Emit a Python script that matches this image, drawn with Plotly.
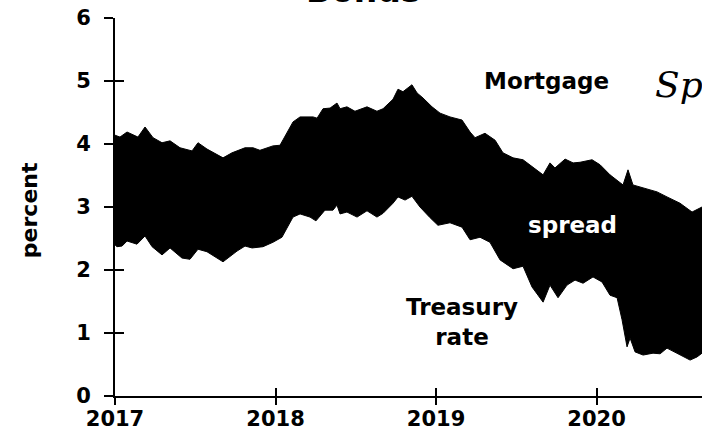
import plotly.graph_objects as go

# decimal-year positions and values
mortgage_x = [2017.000, 2017.031, 2017.075, 2017.143, 2017.187, 2017.237, 2017.293, 2017.343,
              2017.405, 2017.480, 2017.517, 2017.573, 2017.673, 2017.729, 2017.810, 2017.860,
              2017.903, 2017.984, 2018.028, 2018.109, 2018.153, 2018.234, 2018.259, 2018.296,
              2018.340, 2018.383, 2018.402, 2018.445, 2018.495, 2018.570, 2018.632, 2018.670,
              2018.732, 2018.763, 2018.794, 2018.850, 2018.882, 2018.919, 2018.975, 2019.025,
              2019.087, 2019.162, 2019.212, 2019.243, 2019.305, 2019.368, 2019.417, 2019.480,
              2019.542, 2019.604, 2019.667, 2019.710, 2019.741, 2019.804, 2019.854, 2019.897,
              2019.972, 2020.022, 2020.084, 2020.165, 2020.196, 2020.227, 2020.290, 2020.377,
              2020.439, 2020.520, 2020.595, 2020.657, 2020.700]
mortgage_rate = [4.14, 4.11, 4.19, 4.11, 4.27, 4.10, 4.02, 4.05,
                 3.94, 3.89, 4.02, 3.92, 3.78, 3.86, 3.94, 3.94,
                 3.90, 3.97, 3.98, 4.35, 4.43, 4.43, 4.41, 4.56,
                 4.57, 4.65, 4.56, 4.59, 4.52, 4.59, 4.52, 4.56,
                 4.71, 4.87, 4.83, 4.94, 4.81, 4.73, 4.59, 4.49,
                 4.43, 4.38, 4.19, 4.10, 4.17, 4.06, 3.86, 3.78,
                 3.75, 3.63, 3.51, 3.70, 3.62, 3.76, 3.70, 3.71,
                 3.75, 3.67, 3.51, 3.35, 3.59, 3.35, 3.30, 3.24,
                 3.16, 3.06, 2.92, 3.00, 2.95]

treasury_x = [2017.000, 2017.012, 2017.044, 2017.075, 2017.137, 2017.187, 2017.231, 2017.293,
              2017.343, 2017.417, 2017.467, 2017.517, 2017.573, 2017.673, 2017.760, 2017.810,
              2017.854, 2017.922, 2017.984, 2018.040, 2018.109, 2018.153, 2018.215, 2018.252,
              2018.308, 2018.358, 2018.383, 2018.402, 2018.445, 2018.508, 2018.570, 2018.632,
              2018.670, 2018.732, 2018.763, 2018.807, 2018.850, 2018.900, 2018.963, 2019.012,
              2019.087, 2019.162, 2019.212, 2019.274, 2019.336, 2019.399, 2019.480, 2019.542,
              2019.598, 2019.667, 2019.710, 2019.760, 2019.816, 2019.866, 2019.916, 2019.978,
              2020.034, 2020.084, 2020.128, 2020.159, 2020.190, 2020.209, 2020.240, 2020.290,
              2020.352, 2020.396, 2020.439, 2020.502, 2020.583, 2020.626, 2020.657, 2020.700]
treasury_rate = [2.40, 2.37, 2.38, 2.46, 2.41, 2.54, 2.37, 2.24,
                 2.35, 2.19, 2.17, 2.33, 2.29, 2.13, 2.30, 2.38,
                 2.35, 2.37, 2.44, 2.52, 2.84, 2.89, 2.84, 2.78,
                 2.95, 2.95, 3.03, 2.89, 2.92, 2.84, 2.94, 2.84,
                 2.90, 3.06, 3.16, 3.11, 3.17, 3.00, 2.83, 2.71,
                 2.75, 2.68, 2.48, 2.52, 2.44, 2.16, 2.02, 2.06,
                 1.73, 1.49, 1.76, 1.56, 1.76, 1.84, 1.79, 1.89,
                 1.81, 1.60, 1.56, 1.21, 0.78, 0.92, 0.70, 0.65,
                 0.68, 0.67, 0.76, 0.68, 0.57, 0.62, 0.68, 0.66]

x_ticks = [2017, 2018, 2019, 2020]
x_tick_labels = ["2017", "2018", "2019", "2020"]
y_ticks = [0, 1, 2, 3, 4, 5, 6]

FONT = "DejaVu Sans, sans-serif"

fig = go.Figure()
fig.add_trace(go.Scatter(x=treasury_x, y=treasury_rate, mode="lines",
                         line=dict(color="black", width=1), showlegend=False,
                         hoverinfo="skip"))
fig.add_trace(go.Scatter(x=mortgage_x, y=mortgage_rate, mode="lines",
                         line=dict(color="black", width=1), fill="tonexty",
                         fillcolor="black", showlegend=False, hoverinfo="skip"))

x_range = [2017, 2020.657]
y_range = [0, 6]

fig.update_layout(
    width=702, height=443,
    margin=dict(l=115, r=0, t=18, b=47),
    paper_bgcolor="white", plot_bgcolor="white",
    font=dict(family=FONT, color="black"),
    xaxis=dict(range=x_range, tickvals=x_ticks, ticktext=x_tick_labels,
               showgrid=False, zeroline=False, showline=True, linecolor="black",
               linewidth=2, ticks="inside", ticklen=8, tickwidth=2, tickcolor="black",
               ticklabelstandoff=3,
               tickfont=dict(size=21, weight="bold", family=FONT)),
    yaxis=dict(range=y_range, tickvals=y_ticks, showgrid=False, zeroline=False,
               showline=True, linecolor="black", linewidth=2, ticks="outside",
               ticklen=9, tickwidth=2, tickcolor="black", ticklabelstandoff=9,
               tickfont=dict(size=21, weight="bold", family=FONT)),
    xaxis2=dict(range=x_range, overlaying="x", anchor="y", tickvals=x_ticks,
                showticklabels=False, showgrid=False, zeroline=False, showline=False,
                ticks="outside", ticklen=8, tickwidth=2, tickcolor="black", side="bottom"),
    yaxis2=dict(range=y_range, overlaying="y", anchor="x", tickvals=y_ticks,
                showticklabels=False, showgrid=False, zeroline=False, showline=False,
                ticks="inside", ticklen=9, tickwidth=2, tickcolor="black", side="left"),
)

# invisible trace to activate the overlay axes
fig.add_trace(go.Scatter(x=[x_range[0]], y=[y_range[0]], xaxis="x2", yaxis="y2",
                         mode="markers", marker=dict(opacity=0), showlegend=False,
                         hoverinfo="skip"))

fig.add_annotation(text="Bonds", xref="paper", yref="paper", x=0.4225, y=1.016,
                   xanchor="center", yanchor="bottom", showarrow=False,
                   font=dict(size=33, weight="bold", family=FONT))
fig.add_annotation(text="percent", xref="paper", yref="paper", x=-0.171, y=0.492,
                   textangle=-90, showarrow=False,
                   font=dict(size=22, weight="bold", family=FONT))
fig.add_annotation(text="Mortgage", x=2019.69, y=5.0, showarrow=False,
                   font=dict(size=23, weight="bold", family=FONT))
fig.add_annotation(text="spread", x=2019.85, y=2.72, showarrow=False,
                   font=dict(size=23, weight="bold", family=FONT, color="white"))
fig.add_annotation(text="Treasury<br>rate", x=2019.16, y=1.17, showarrow=False,
                   font=dict(size=23, weight="bold", family=FONT))
fig.add_annotation(text="Sp", x=2020.352, y=4.94, showarrow=False, xanchor="left",
                   font=dict(size=36, family="DejaVu Serif", style="italic"))

fig.write_html("out.html",
               config={"displayModeBar": False},
               post_script="document.body.style.margin='0';"
                           "document.body.style.overflow='hidden';")
